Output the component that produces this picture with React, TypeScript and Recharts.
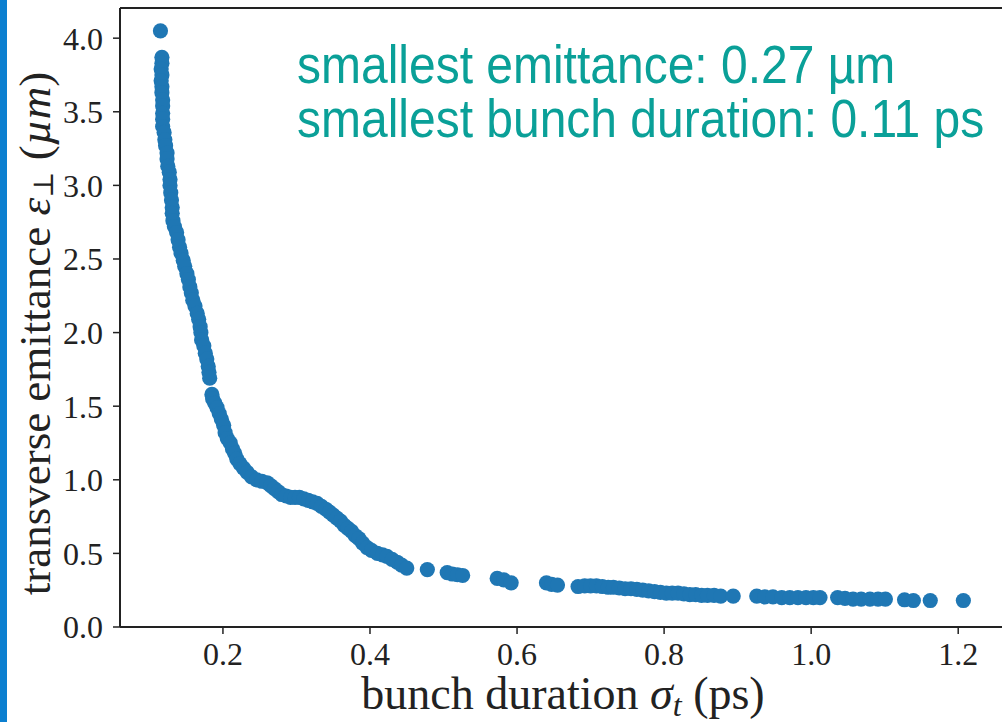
import { Label, ReferenceLine, Scatter, ScatterChart, XAxis, YAxis } from "recharts";

// steep branch (sigma_t in ps, emittance in um)
const STEEP_X = [
  0.115, 0.117, 0.117, 0.116, 0.117, 0.116, 0.117, 0.117, 0.118, 0.118, 0.118, 0.118, 0.118, 0.12, 0.121,
  0.122, 0.124, 0.124, 0.125, 0.127, 0.128, 0.128, 0.129, 0.13, 0.131, 0.131, 0.132, 0.134, 0.137, 0.139,
  0.141, 0.143, 0.146, 0.148, 0.151, 0.153, 0.155, 0.157, 0.159, 0.162, 0.165, 0.167, 0.169, 0.17, 0.171,
  0.174, 0.176, 0.178, 0.18, 0.181, 0.182, 0.185, 0.186, 0.189, 0.192, 0.195, 0.198, 0.201, 0.203, 0.206,
  0.21, 0.213, 0.216, 0.219, 0.223, 0.228, 0.233, 0.239,
];
const STEEP_Y = [
  4.05, 3.87, 3.83, 3.79, 3.75, 3.71, 3.67, 3.63, 3.58, 3.54, 3.49, 3.45, 3.4, 3.36, 3.31,
  3.27, 3.22, 3.18, 3.13, 3.09, 3.04, 3.0, 2.95, 2.9, 2.85, 2.81, 2.76, 2.72, 2.68, 2.63,
  2.58, 2.54, 2.49, 2.45, 2.4, 2.36, 2.31, 2.27, 2.22, 2.18, 2.13, 2.09, 2.04, 2.0, 1.95,
  1.91, 1.86, 1.82, 1.77, 1.73, 1.69, 1.58, 1.55, 1.52, 1.49, 1.45, 1.41, 1.37, 1.32, 1.28,
  1.25, 1.21, 1.18, 1.14, 1.11, 1.08, 1.05, 1.02,
];

// shoulder around 0.3 ps
const SHOULDER_X = [
  0.246, 0.253, 0.26, 0.265, 0.27, 0.275, 0.28, 0.286, 0.292, 0.298, 0.304, 0.31, 0.316, 0.322, 0.328,
  0.334, 0.34, 0.345, 0.35, 0.355, 0.36, 0.365, 0.37, 0.375, 0.38, 0.385, 0.39, 0.396, 0.402, 0.41,
  0.417, 0.423, 0.43, 0.437, 0.443, 0.45, 0.478, 0.505, 0.512, 0.519, 0.526,
];
const SHOULDER_Y = [
  1.0, 0.99, 0.98, 0.96, 0.94, 0.92, 0.9, 0.89, 0.88, 0.88, 0.88, 0.87, 0.86, 0.85, 0.84,
  0.82, 0.8, 0.78, 0.76, 0.74, 0.72, 0.69, 0.67, 0.65, 0.62, 0.6, 0.57, 0.54, 0.52, 0.5,
  0.49, 0.48, 0.46, 0.44, 0.42, 0.4, 0.39, 0.37, 0.36, 0.355, 0.35,
];

// long tail
const TAIL_X = [
  0.573, 0.582, 0.592, 0.64, 0.647, 0.655, 0.683, 0.692, 0.7, 0.708, 0.716, 0.724, 0.731, 0.739, 0.747,
  0.755, 0.763, 0.771, 0.779, 0.787, 0.795, 0.803, 0.811, 0.819, 0.827, 0.835, 0.843, 0.851, 0.859, 0.868,
  0.877, 0.894, 0.926, 0.937, 0.948, 0.96, 0.971, 0.982, 0.993, 1.003, 1.012, 1.036, 1.046, 1.057, 1.068,
  1.08, 1.091, 1.101, 1.127, 1.139, 1.162, 1.207,
];
const TAIL_Y = [
  0.33, 0.32, 0.3, 0.3, 0.29, 0.285, 0.275, 0.28, 0.28, 0.28, 0.275, 0.27, 0.27, 0.265, 0.26,
  0.26, 0.255, 0.25, 0.245, 0.24, 0.235, 0.23, 0.23, 0.23, 0.225, 0.22, 0.22, 0.215, 0.215, 0.215,
  0.21, 0.21, 0.21, 0.205, 0.205, 0.2, 0.2, 0.2, 0.2, 0.2, 0.2, 0.2, 0.195, 0.19, 0.19,
  0.19, 0.19, 0.19, 0.185, 0.18, 0.18, 0.18,
];

const X_TICKS = [0.2, 0.4, 0.6, 0.8, 1.0, 1.2];
const Y_TICKS = [0, 0.5, 1.0, 1.5, 2.0, 2.5, 3.0, 3.5, 4.0];
const X_DOMAIN = [0.06, 1.265];
const Y_DOMAIN = [0, 4.205];

const NOTES = ["smallest emittance: 0.27 µm", "smallest bunch duration: 0.11 ps"];

const points = [
  ...STEEP_X.map((x, i) => ({ x, y: STEEP_Y[i] })),
  ...SHOULDER_X.map((x, i) => ({ x, y: SHOULDER_Y[i] })),
  ...TAIL_X.map((x, i) => ({ x, y: TAIL_Y[i] })),
];

const SERIF = "'Liberation Serif', 'DejaVu Serif', serif";
const INK = "#222";
const tickStyle = { fontSize: 32, fill: INK, fontFamily: SERIF };

function Dot(p: any) {
  return <circle cx={p.cx} cy={p.cy} r={7.6} fill="#1f77b4" />;
}

function XTitle(props: any) {
  const vb = props.viewBox || { x: 120, y: 627, width: 886, height: 95 };
  return (
    <text x={vb.x + vb.width / 2} y={vb.y + 82} textAnchor="middle" fontFamily={SERIF} fontSize={46} fill={INK}>
      {"bunch duration "}
      <tspan fontStyle="italic">σ</tspan>
      <tspan fontStyle="italic" fontSize={32} dy={7}>t</tspan>
      <tspan dy={-7}>{" (ps)"}</tspan>
    </text>
  );
}

function YTitle(props: any) {
  const vb = props.viewBox || { x: 0, y: 8, width: 120, height: 619 };
  const x = vb.x + 50;
  const y = vb.y + vb.height / 2 + 16;
  return (
    <text x={x} y={y} transform={`rotate(-90, ${x}, ${y})`} textAnchor="middle" fontFamily={SERIF} fontSize={45} fill={INK}>
      {"transverse emittance "}
      <tspan fontStyle="italic">ε</tspan>
      <tspan fontSize={28} dy={3}>⊥</tspan>
      <tspan dy={-3}>{" ("}</tspan>
      <tspan fontStyle="italic">µm</tspan>
      {")"}
    </text>
  );
}

export default function App() {
  return (
    <div style={{ position: "absolute", left: 0, top: 0, width: 1002, height: 722, overflow: "hidden", background: "#fff" }}>
      <ScatterChart width={1010} height={722} margin={{ top: 8, right: 4, bottom: 0, left: 0 }}>
        <XAxis
          type="number"
          dataKey="x"
          domain={X_DOMAIN}
          allowDataOverflow
          ticks={X_TICKS}
          tickFormatter={(v: number) => v.toFixed(1)}
          height={95}
          tickSize={7}
          tickMargin={8}
          tick={tickStyle}
          axisLine={{ stroke: INK, strokeWidth: 2 }}
          tickLine={{ stroke: INK, strokeWidth: 1.5 }}
        >
          <Label content={<XTitle />} />
        </XAxis>
        <YAxis
          type="number"
          dataKey="y"
          domain={Y_DOMAIN}
          allowDataOverflow
          ticks={Y_TICKS}
          tickFormatter={(v: number) => v.toFixed(1)}
          width={120}
          tickSize={7}
          tickMargin={10}
          tick={tickStyle}
          axisLine={{ stroke: INK, strokeWidth: 2 }}
          tickLine={{ stroke: INK, strokeWidth: 1.5 }}
        >
          <Label content={<YTitle />} />
        </YAxis>
        {/* top spine */}
        <ReferenceLine y={Y_DOMAIN[1]} stroke={INK} strokeWidth={2} ifOverflow="extendDomain" />
        <Scatter data={points} shape={Dot} isAnimationActive={false} />
      </ScatterChart>
      <svg width={1002} height={722} style={{ position: "absolute", left: 0, top: 0, pointerEvents: "none" }}>
        {NOTES.map((t, i) => (
          <text
            key={t}
            transform={`translate(297, ${83 + i * 54}) scale(1, 1.1)`}
            fontFamily="'Liberation Sans', Arial, sans-serif"
            fontSize={48}
            fill="#0aa098"
          >
            {t}
          </text>
        ))}
      </svg>
      <div style={{ position: "absolute", left: 0, top: 0, width: 7, height: 722, background: "#0b7fd0" }} />
    </div>
  );
}
